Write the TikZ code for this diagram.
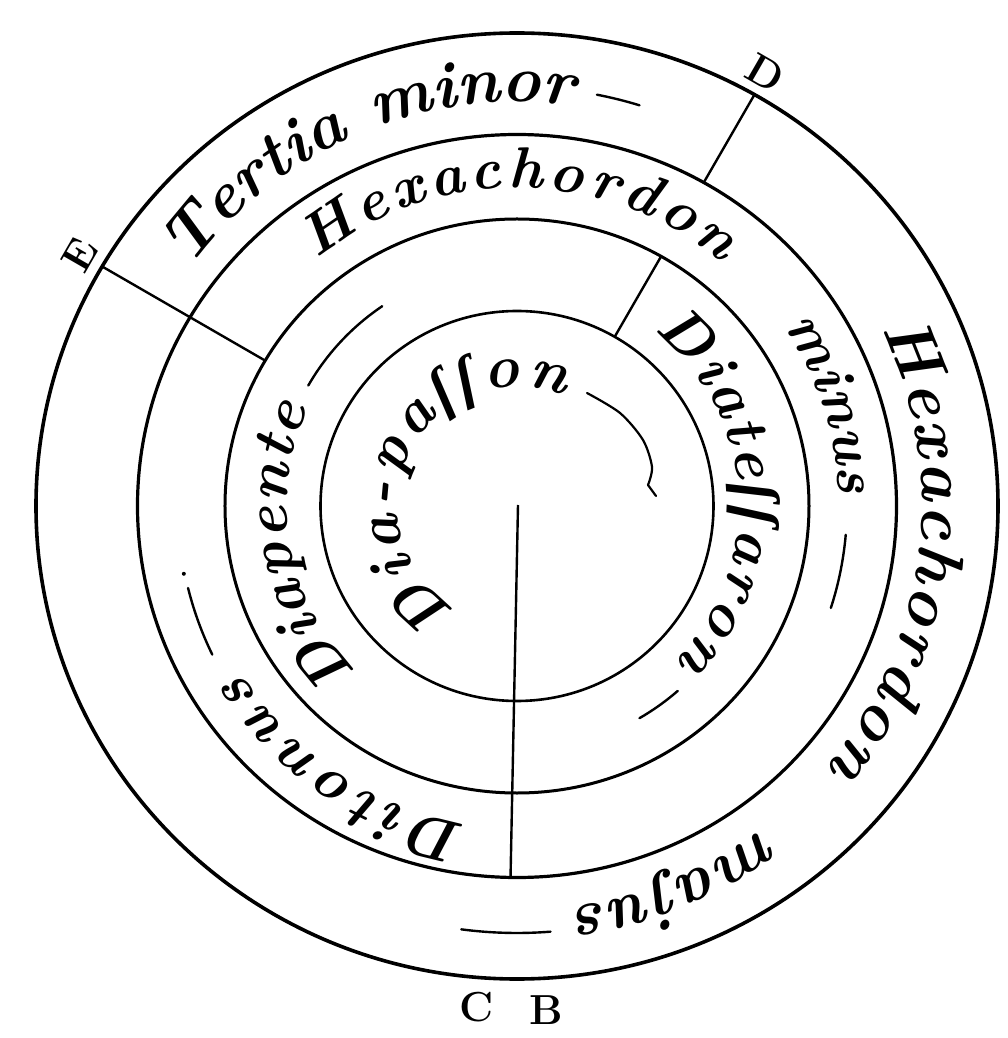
\documentclass[tikz,border=0pt]{standalone}
\usepackage{fontspec}
\usetikzlibrary{decorations.text,shapes.geometric}
\newfontfamily\lsfam{Liberation Serif}
\newcommand\ftOut{\fontsize{66pt}{66pt}\selectfont\bfseries\itshape}
\newcommand\ftMid{\fontsize{58pt}{58pt}\selectfont\bfseries\itshape}
\newcommand\ftThr{\fontsize{60pt}{60pt}\selectfont\bfseries\itshape}
\newcommand\ftThrS{\lsfam\fontsize{58pt}{58pt}\selectfont\bfseries\itshape}
\newcommand\ftIn{\fontsize{60pt}{60pt}\selectfont\bfseries\itshape}
\newcommand\ftInS{\lsfam\fontsize{58pt}{58pt}\selectfont\bfseries\itshape}
\begin{document}
\begin{tikzpicture}[x=1pt,y=1pt,
  ring/.style={draw, ellipse, inner sep=0pt, outer sep=0pt},
  radline/.style={line width=2.4pt},
  dashmark/.style={line width=2.4pt, line cap=round},
  lab/.style={font=\fontsize{42pt}{42pt}\selectfont\bfseries, inner sep=0pt},
  arctext/.style={decorate, decoration={text along path, text align={fit to path}, text={#1}}},
]
\fill[white] (-517,-532) rectangle (491,506);
\useasboundingbox (-517,-532) rectangle (491,506);

% rings
\node[ring, minimum width=962pt, minimum height=946pt, line width=3.6pt] (outer) at (0,0) {};
\node[ring, minimum width=759pt, minimum height=743pt, line width=3.2pt] (second) at (0,0) {};
\node[ring, minimum width=584pt, minimum height=574pt, line width=3pt] (third) at (0,0) {};
\node[ring, minimum width=393pt, minimum height=390pt, line width=2.6pt] (inner) at (0,0) {};
\coordinate (ctr) at (1,1);

% radial lines
\draw[radline] (outer.60) -- (second.60);
\draw[radline] (outer.150) -- (third.150);
\draw[radline] (third.60) -- (inner.60);
\draw[radline] (ctr) -- (second.269);

% labels
\node[lab, rotate=-30] (labD) at (248,433) {D};
\node[lab, rotate=60] (labE) at (-437,251) {E};
\node[lab] (labC) at (-40,-501) {C};
\node[lab] (labB) at (29,-504) {B};

% outer band
\path[arctext={|\ftOut|Tertia minor}] (144:404pt) arc[start angle=144, end angle=83.5, radius=404pt];
\draw[dashmark] (79:419pt) arc[start angle=79, end angle=73, radius=419pt];
\path[arctext={|\ftOut|Hexachordon}] (26:405pt) arc[start angle=26, end angle=-40, radius=405pt];
\path[arctext={|\ftOut|majus}] (-52.5:405pt) arc[start angle=-52.5, end angle=-82, radius=405pt];
\draw[dashmark] (-85.5:427pt) arc[start angle=-85.5, end angle=-97.5, radius=427pt];

% second band
\path[arctext={|\ftMid|Hexachordon}] (129:318pt) arc[start angle=129, end angle=50, radius=318pt];
\path[arctext={|\ftMid|minus}] (34:322pt) arc[start angle=34, end angle=2, radius=322pt];
\draw[dashmark] (-5:330pt) arc[start angle=-5, end angle=-18, radius=330pt];
\path[arctext={|\ftThr|Ditonus}] (261:322pt) arc[start angle=261, end angle=211.5, radius=322pt];
\draw[dashmark] (206:339pt) arc[start angle=206, end angle=194, radius=339pt];
\fill (191.5:340pt) circle[radius=2pt];

% third band
\path[arctext={|\ftThr|Diate|\ftThrS|ſſ|\ftThr|aron}] (52:222pt) arc[start angle=52, end angle=-44, radius=222pt];
\draw[dashmark] (-49:245pt) arc[start angle=-49, end angle=-60, radius=245pt];
\path[arctext={|\ftThr|Diapente}] (226:230pt) arc[start angle=226, end angle=155, radius=230pt];
\draw[dashmark] (150:241pt) arc[start angle=150, end angle=124, radius=241pt];

% inner disc
\path[arctext={|\ftIn|Dia-pa|\ftInS|ſſ|\ftIn|on}] (240:119pt) arc[start angle=240, end angle=67, radius=119pt];
\draw[line width=2.2pt, line cap=round, line join=round] plot[smooth] coordinates {(70,113) (103,93) (126,66) (135,39) (131,21)} -- (139,10);
\end{tikzpicture}
\end{document}
